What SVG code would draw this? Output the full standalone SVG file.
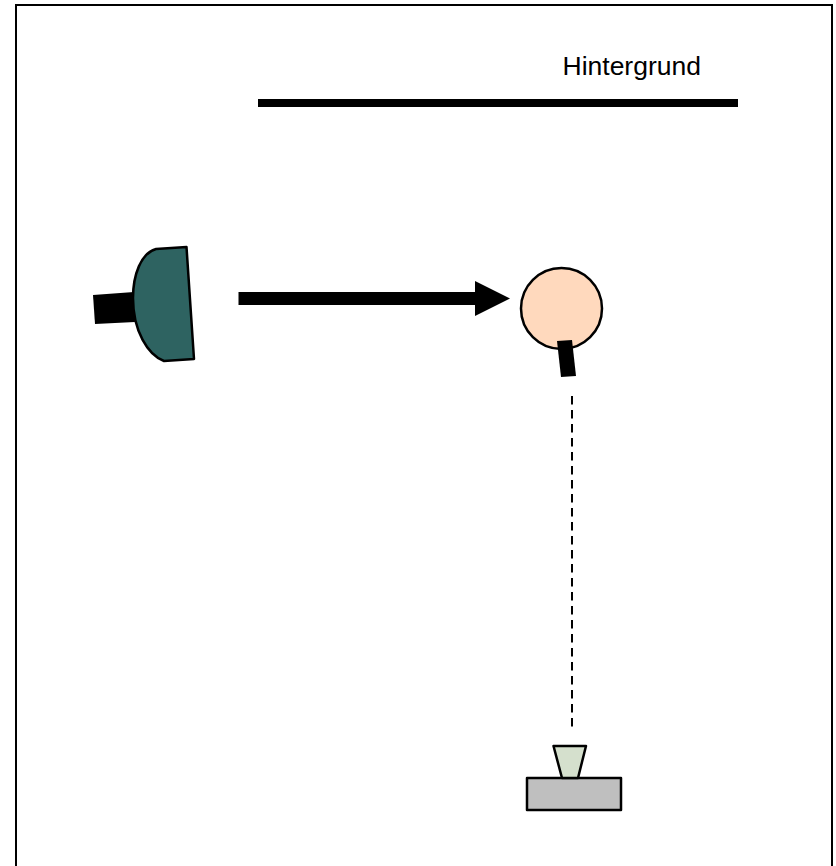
<svg xmlns="http://www.w3.org/2000/svg" width="836" height="866" viewBox="0 0 836 866">
<style>
.o{stroke:#000;stroke-width:2.500;stroke-linejoin:round}
.k{fill:#000}
text{font-family:"Liberation Sans",Arial,sans-serif;font-size:26.500px;fill:#000}
</style>
<rect width="836" height="866" fill="#fff"/>
<path id="frame" d="M16 880V5H832V880" fill="none" stroke="#000" stroke-width="2"/>
<g id="background">
<rect class="k" x="258" y="99" width="480" height="8"/>
<text x="562.500" y="75">Hintergrund</text>
</g>
<g id="lamp">
<polygon class="k" points="93,295 134,292 135,322 95,324"/>
<path class="o" fill="#2e6361" d="M186.500 247L156 249C141 253 133 275 133 298C133 331 148 355 164 361L194 359Z"/>
</g>
<g id="person">
<circle class="o" fill="#ffd9bd" cx="561.500" cy="308.500" r="40.500"/>
<polygon class="k" points="557,341 572,340 576,376 561,377"/>
</g>
<g id="camera">
<rect class="o" fill="#bfbfbf" x="527" y="778" width="94" height="32"/>
<polygon class="o" fill="#d5e0cd" points="553.500,746 586,746 578,778 562,778"/>
</g>
<g id="connectors">
<path d="M238.500 298.500H476" fill="none" stroke="#000" stroke-width="13"/>
<polygon class="k" points="475,281 510,298.500 475,316"/>
<path d="M572 396V727" fill="none" stroke="#000" stroke-width="2" stroke-dasharray="8.500 5.500"/>
</g>
</svg>
